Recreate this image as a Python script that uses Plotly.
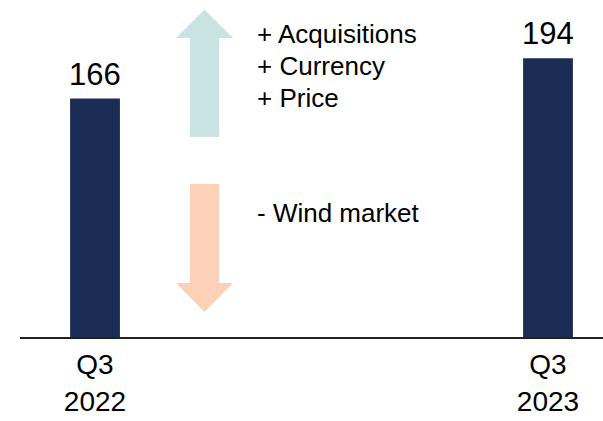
import plotly.graph_objects as go

# Quarterly values
periods = ["Q3<br>2022", "Q3<br>2023"]
values = [166, 194]

# Driver notes
up_drivers = ["+ Acquisitions", "+ Currency", "+ Price"]
down_drivers = ["- Wind market"]

FONT = "Liberation Sans, Arial, sans-serif"
NAVY = "#1B2D54"
TEAL = "#C8E3E2"
PEACH = "#FDD1B8"

W, H = 603, 421
ML, MR, MT, MB = 20, 0, 0, 84
PW, PH = W - ML - MR, H - MT - MB


def px(x):
    return (x - ML) / PW


def py(y):
    return (H - MB - y) / PH


def poly(points):
    return "M " + " L ".join(f"{px(x):.5f},{py(y):.5f}" for x, y in points) + " Z"


fig = go.Figure(
    go.Bar(
        x=periods,
        y=values,
        width=0.11,
        marker=dict(color=NAVY, line=dict(width=0)),
        cliponaxis=False,
        hoverinfo="skip",
    )
)

# Arrow glyphs for the bridge drivers
up_arrow = [(204.5, 9.5), (233, 38), (219, 38), (219, 137), (190, 137), (190, 38), (176, 38)]
down_arrow = [(190, 184), (219, 184), (219, 283), (233, 283), (204.5, 312), (176, 283), (190, 283)]

shapes = [
    dict(type="path", xref="paper", yref="paper", path=poly(up_arrow),
         fillcolor=TEAL, line=dict(width=0), layer="below"),
    dict(type="path", xref="paper", yref="paper", path=poly(down_arrow),
         fillcolor=PEACH, line=dict(width=0), layer="below"),
]


def note(text, y_center):
    return dict(xref="paper", yref="paper", x=px(255), y=py(y_center),
                xanchor="left", yanchor="middle", align="left", showarrow=False,
                text=text, font=dict(family=FONT, size=26, color="#000000"))


annotations = [note(t, 34 + 32 * i) for i, t in enumerate(up_drivers)]
annotations += [note(t, 213 + 32 * i) for i, t in enumerate(down_drivers)]

# Value labels above each bar
annotations += [
    dict(x=p, y=v, xref="x", yref="y", text=f"{v}", showarrow=False,
         xanchor="center", yanchor="bottom", yshift=5,
         font=dict(family=FONT, size=31, color="#000000"))
    for p, v in zip(periods, values)
]

unit = 453.0
fig.update_layout(
    width=W,
    height=H,
    margin=dict(l=ML, r=MR, t=MT, b=MB, pad=0),
    paper_bgcolor="white",
    plot_bgcolor="white",
    showlegend=False,
    shapes=shapes,
    annotations=annotations,
    xaxis=dict(
        type="category",
        range=[-75 / unit, 1 + 55 / unit],
        showline=True,
        linecolor="#222222",
        linewidth=1.5,
        showgrid=False,
        zeroline=False,
        ticks="",
        tickfont=dict(family=FONT, size=28, color="#000000"),
        ticklabelstandoff=2,
        fixedrange=True,
    ),
    yaxis=dict(
        range=[0, PH / 1.4367],
        visible=False,
        showgrid=False,
        zeroline=False,
        fixedrange=True,
    ),
)

fig.write_html("out.html")
